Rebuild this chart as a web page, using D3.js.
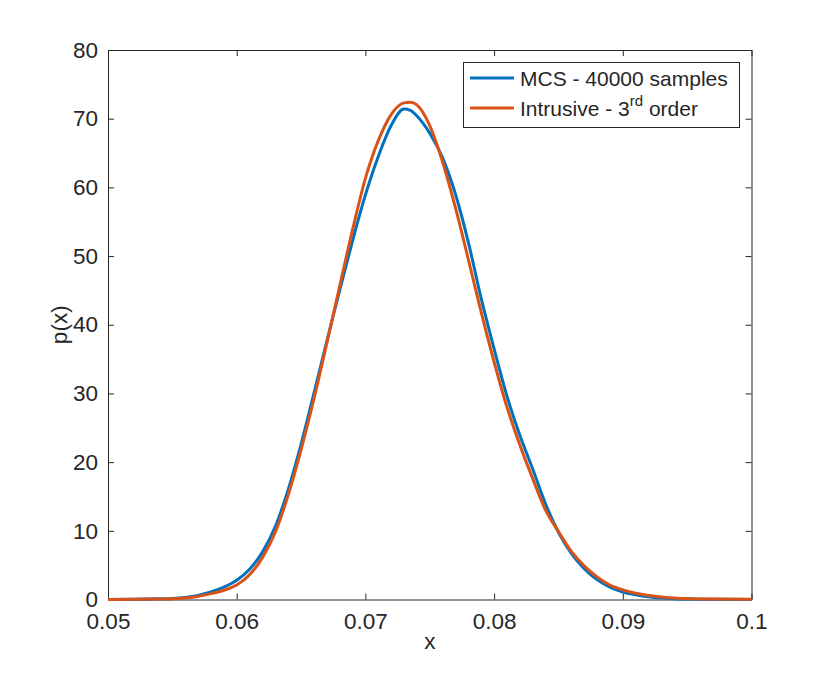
<!DOCTYPE html>
<html>
<head>
<meta charset="utf-8">
<script src="https://cdn.jsdelivr.net/npm/d3@7"></script>
<style>
  body { margin: 0; background: #fff; }
  text { font-family: "Liberation Sans", Arial, sans-serif; fill: #262626; }
</style>
</head>
<body>
<div id="chart"></div>
<script>
// x positions of the density estimates
var xs = [0.050, 0.052, 0.054, 0.055, 0.056, 0.057, 0.058, 0.059, 0.060, 0.061,
  0.062, 0.063, 0.064, 0.065, 0.066, 0.067, 0.068, 0.069, 0.070, 0.071,
  0.072, 0.073, 0.0735, 0.074, 0.075, 0.076, 0.077, 0.078, 0.079, 0.080,
  0.081, 0.082, 0.083, 0.084, 0.085, 0.086, 0.087, 0.088, 0.089, 0.090,
  0.091, 0.092, 0.093, 0.094, 0.095, 0.097, 0.100];

// MCS - 40000 samples
var mcs = [0.0, 0.03, 0.1, 0.15, 0.3, 0.6, 1.1, 1.8, 2.8, 4.4,
  6.9, 10.6, 16.0, 22.6, 30.0, 37.6, 45.0, 52.2, 58.9, 64.5,
  69.0, 71.4, 71.2, 70.4, 67.9, 64.3, 59.0, 52.0, 43.8, 36.5,
  29.6, 23.9, 19.0, 13.9, 9.8, 6.7, 4.5, 2.9, 1.8, 1.1,
  0.7, 0.4, 0.22, 0.12, 0.07, 0.03, 0.01];

// Intrusive - 3rd order
var intrusive = [0.0, 0.02, 0.07, 0.12, 0.22, 0.45, 0.85, 1.35, 2.1, 3.6,
  6.1, 9.8, 15.2, 21.8, 29.2, 37.3, 45.6, 53.8, 61.3, 66.8,
  70.6, 72.3, 72.4, 72.0, 69.0, 63.7, 57.0, 49.5, 41.8, 34.6,
  28.0, 22.5, 17.6, 13.0, 9.9, 7.0, 4.9, 3.3, 2.1, 1.4,
  0.9, 0.6, 0.35, 0.22, 0.14, 0.06, 0.02];

var xTicks = [0.05, 0.06, 0.07, 0.08, 0.09, 0.1];
var yTicks = [0, 10, 20, 30, 40, 50, 60, 70, 80];

var width = 830, height = 673;
var plotLeft = 108, plotTop = 50, plotRight = 751.5, plotBottom = 599.5;
var axisColor = "#262626";
var fontSize = 22.5;

var svg = d3.select("#chart").append("svg")
  .attr("width", width)
  .attr("height", height);

var x = d3.scaleLinear().domain([0.05, 0.1]).range([plotLeft, plotRight]);
var y = d3.scaleLinear().domain([0, 80]).range([plotBottom, plotTop]);

function fmtX(d) { return d === 0.1 ? "0.1" : d3.format(".2f")(d); }

var xAxis = svg.append("g")
  .attr("transform", "translate(0," + plotBottom + ")")
  .call(d3.axisBottom(x).tickValues(xTicks).tickFormat(fmtX).tickSizeInner(-6).tickSizeOuter(0).tickPadding(14));
var xAxisTop = svg.append("g")
  .attr("transform", "translate(0," + plotTop + ")")
  .call(d3.axisTop(x).tickValues(xTicks).tickFormat("").tickSizeInner(-6).tickSizeOuter(0));
var yAxis = svg.append("g")
  .attr("transform", "translate(" + plotLeft + ",0)")
  .call(d3.axisLeft(y).tickValues(yTicks).tickSizeInner(-6).tickSizeOuter(0).tickPadding(10));
var yAxisRight = svg.append("g")
  .attr("transform", "translate(" + plotRight + ",0)")
  .call(d3.axisRight(y).tickValues(yTicks).tickFormat("").tickSizeInner(-6).tickSizeOuter(0));

[xAxis, xAxisTop, yAxis, yAxisRight].forEach(function (g) {
  g.select(".domain").attr("stroke", axisColor).attr("stroke-width", 1);
  g.selectAll(".tick line").attr("stroke", axisColor).attr("stroke-width", 1);
  g.selectAll(".tick text")
    .attr("fill", axisColor)
    .style("font-size", fontSize + "px")
    .style("font-family", "'Liberation Sans', Arial, sans-serif");
});

// curves
var line = d3.line()
  .x(function (d) { return x(d[0]); })
  .y(function (d) { return y(d[1]); })
  .curve(d3.curveMonotoneX);

var series = [
  { name: "mcs", values: mcs, color: "#0072BD" },
  { name: "intrusive", values: intrusive, color: "#D95319" }
];

svg.append("g").selectAll("path")
  .data(series)
  .enter()
  .append("path")
  .attr("d", function (s) { return line(xs.map(function (v, i) { return [v, s.values[i]]; })); })
  .attr("fill", "none")
  .attr("stroke", function (s) { return s.color; })
  .attr("stroke-width", 3)
  .attr("stroke-linejoin", "round");

// axis labels
svg.append("text")
  .attr("x", (plotLeft + plotRight) / 2)
  .attr("y", 649)
  .attr("text-anchor", "middle")
  .style("font-size", fontSize + "px")
  .text("x");

svg.append("text")
  .attr("transform", "translate(67," + (plotTop + plotBottom) / 2 + ") rotate(-90)")
  .attr("text-anchor", "middle")
  .style("font-size", fontSize + "px")
  .text("p(x)");

// legend
var legend = svg.append("g");
legend.append("rect")
  .attr("x", 463.5).attr("y", 62.5)
  .attr("width", 276).attr("height", 65)
  .attr("fill", "#fff")
  .attr("stroke", axisColor)
  .attr("stroke-width", 1);

var legendRows = [78, 108];
series.forEach(function (s, i) {
  legend.append("line")
    .attr("x1", 470).attr("x2", 514)
    .attr("y1", legendRows[i]).attr("y2", legendRows[i])
    .attr("stroke", s.color)
    .attr("stroke-width", 3);
});

legend.append("text")
  .attr("x", 520).attr("y", legendRows[0] + 7.5)
  .style("font-size", "21px")
  .text("MCS - 40000 samples");

var t2 = legend.append("text")
  .attr("x", 520).attr("y", legendRows[1] + 7.5)
  .style("font-size", "21px");
t2.append("tspan").text("Intrusive - 3");
t2.append("tspan").attr("dy", -10).style("font-size", "15px").text("rd");
t2.append("tspan").attr("dy", 10).text(" order");
</script>
</body>
</html>
